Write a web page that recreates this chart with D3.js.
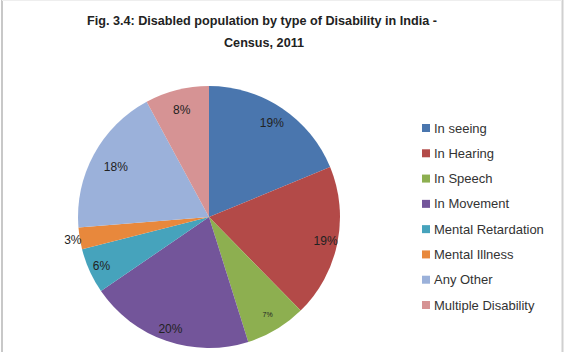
<!DOCTYPE html>
<html><head><meta charset="utf-8">
<script src="https://cdn.jsdelivr.net/npm/d3@7"></script>
<style>body{margin:0;background:#fff}svg{display:block}</style>
</head><body>
<svg id="c" width="566" height="356"></svg>
<script>
const categories = ["In seeing","In Hearing","In Speech","In Movement","Mental Retardation","Mental Illness","Any Other","Multiple Disability"];
const values = [18.8, 18.9, 7.5, 20.3, 5.6, 2.7, 18.4, 7.9];
const labels = ["19%","19%","7%","20%","6%","3%","18%","8%"];
const colors = ["#4A76AE","#B34A48","#8DAF50","#73559A","#46A3BC","#E8883C","#9BB1DA","#D69394"];
const titleLines = ["Fig. 3.4: Disabled population by type of Disability in India -","Census, 2011"];

const svg = d3.select("#c");
// frame
svg.append("line").attr("x1",2).attr("x2",2).attr("y1",0).attr("y2",352).attr("stroke","#c8c8c8").attr("stroke-width",2);
svg.append("line").attr("x1",562.5).attr("x2",562.5).attr("y1",0).attr("y2",352).attr("stroke","#d0d0d0").attr("stroke-width",2);
svg.append("line").attr("x1",2).attr("x2",562).attr("y1",0.5).attr("y2",0.5).attr("stroke","#eeeeee").attr("stroke-width",1);

const font = "'Liberation Sans', Arial, sans-serif";
svg.append("g").selectAll("text").data(titleLines).join("text")
  .attr("x",(d,i)=>i===0?262:264).attr("y",(d,i)=>25+i*22).attr("text-anchor","middle")
  .attr("font-family",font).attr("font-weight","bold").attr("font-size",13.5)
  .attr("fill","#222")
  .attr("textLength",(d,i)=>i===0?350:80).attr("lengthAdjust","spacingAndGlyphs")
  .text(d=>d);

const cx=209, cy=217, R=131;
const pie = d3.pie().sort(null).value(d=>d)(values);
const arc = d3.arc().innerRadius(0).outerRadius(R);
const g = svg.append("g").attr("transform",`translate(${cx},${cy})`);
g.selectAll("path").data(pie).join("path").attr("d",arc).attr("fill",(d,i)=>colors[i]);

const lr = [113,119,114,118,118,138,106,111];
g.selectAll("text").data(pie).join("text")
  .attr("transform",(d,i)=>{const a=(d.startAngle+d.endAngle)/2; return `translate(${Math.sin(a)*lr[i]},${-Math.cos(a)*lr[i]})`;})
  .attr("text-anchor","middle").attr("dy","0.35em")
  .attr("font-family",font).attr("font-size",(d,i)=>i===2?7:12)
  .attr("fill","#222")
  .text((d,i)=>labels[i]);

const ly = d3.scalePoint().domain(categories).range([128,305]);
const leg = svg.append("g");
const items = leg.selectAll("g").data(categories).join("g").attr("transform",d=>`translate(422,${ly(d)})`);
items.append("rect").attr("x",0).attr("y",-4).attr("width",8).attr("height",8).attr("fill",(d,i)=>colors[i]);
items.append("text").attr("x",12).attr("dy","0.35em").attr("font-family",font).attr("font-size",13)
  .attr("fill","#333").text(d=>d);
</script>
</body></html>
